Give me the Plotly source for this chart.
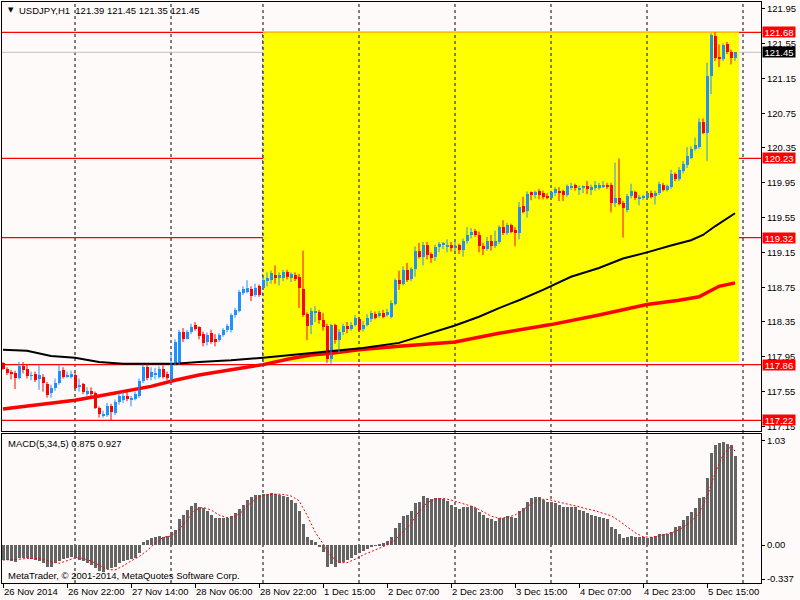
import plotly.graph_objects as go

# ---------------- data ----------------
opens = [117.88,117.81,117.78,117.76,117.71,117.84,117.81,117.73,117.75,117.70,
 117.72,117.64,117.53,117.59,117.65,117.80,117.72,117.72,117.74,117.61,
 117.64,117.52,117.56,117.53,117.36,117.27,117.28,117.39,117.30,117.43,
 117.45,117.50,117.46,117.47,117.50,117.67,117.83,117.72,117.75,117.72,
 117.81,117.75,117.68,117.87,117.88,118.24,118.16,118.23,118.31,118.29,
 118.21,118.12,118.22,118.15,118.14,118.20,118.26,118.26,118.43,118.48,
 118.68,118.70,118.73,118.66,118.76,118.74,118.83,118.83,118.89,118.86,
 118.86,118.93,118.86,118.89,118.87,118.73,118.44,118.31,118.46,118.47,
 118.37,118.30,117.92,118.31,118.14,118.24,118.30,118.27,118.32,118.39,
 118.27,118.32,118.38,118.44,118.42,118.45,118.43,118.41,118.56,118.83,
 118.79,118.95,118.84,118.96,119.17,119.10,119.24,119.13,119.10,119.21,
 119.24,119.22,119.23,119.21,119.23,119.18,119.28,119.35,119.40,119.35,
 119.22,119.19,119.28,119.22,119.27,119.44,119.37,119.46,119.41,119.37,
 119.68,119.63,119.84,119.81,119.85,119.83,119.80,119.78,119.83,119.86,
 119.86,119.81,119.90,119.92,119.87,119.90,119.91,119.87,119.89,119.89,
 119.91,119.93,119.92,119.72,119.78,119.72,119.64,119.80,119.84,119.77,
 119.78,119.78,119.83,119.80,119.83,119.93,119.87,119.90,120.05,119.99,
 120.08,120.15,120.24,120.34,120.36,120.65,120.52,121.18,121.64,121.40,
 121.37,121.54,121.45,121.39]
highs = [117.89,117.83,117.80,117.79,117.89,117.89,117.86,117.78,117.78,117.85,
 117.75,117.66,117.63,117.70,117.86,117.83,117.78,117.79,117.77,117.70,
 117.65,117.60,117.60,117.55,117.38,117.33,117.42,117.41,117.46,117.53,
 117.55,117.55,117.50,117.55,117.70,117.86,117.87,117.83,117.82,117.84,
 117.85,117.78,118.00,118.15,118.26,118.28,118.26,118.33,118.35,118.30,
 118.24,118.23,118.26,118.21,118.22,118.28,118.33,118.45,118.51,118.72,
 118.76,118.83,118.76,118.79,118.78,118.87,118.92,118.94,119.00,118.92,
 118.95,118.95,118.92,118.92,118.90,119.17,118.46,118.51,118.53,118.49,
 118.45,118.33,118.33,118.33,118.27,118.33,118.35,118.35,118.43,118.41,
 118.36,118.44,118.48,118.47,118.48,118.49,118.50,118.60,118.85,118.94,
 118.99,119.03,118.98,119.22,119.26,119.27,119.27,119.15,119.24,119.27,
 119.27,119.30,119.27,119.30,119.25,119.31,119.44,119.43,119.42,119.39,
 119.26,119.33,119.35,119.40,119.46,119.52,119.49,119.48,119.44,119.73,
 119.79,119.85,119.85,119.86,119.88,119.86,119.83,119.86,119.90,119.90,
 119.87,119.93,119.95,119.94,119.92,119.92,119.97,119.93,119.97,119.95,
 119.97,119.95,119.95,120.18,120.23,119.74,119.82,119.94,119.86,119.81,
 119.81,119.85,119.86,119.86,119.96,119.95,119.93,120.10,120.07,120.13,
 120.20,120.36,120.37,120.47,120.69,120.69,121.33,121.67,121.68,121.54,
 121.55,121.57,121.48,121.45]
lows = [117.80,117.74,117.69,117.58,117.69,117.76,117.70,117.68,117.66,117.57,
 117.55,117.48,117.48,117.56,117.63,117.70,117.71,117.70,117.58,117.55,
 117.52,117.50,117.50,117.35,117.25,117.25,117.26,117.22,117.28,117.40,
 117.42,117.44,117.38,117.45,117.48,117.65,117.68,117.68,117.69,117.70,
 117.70,117.68,117.66,117.85,117.86,118.12,118.15,118.21,118.25,118.15,
 118.07,118.08,118.10,118.07,118.12,118.18,118.23,118.23,118.40,118.46,
 118.66,118.68,118.59,118.64,118.64,118.72,118.76,118.79,118.79,118.77,
 118.82,118.84,118.81,118.82,118.51,118.41,118.14,118.21,118.35,118.33,
 118.25,117.88,117.87,118.10,117.99,118.20,118.22,118.25,118.30,118.24,
 118.24,118.30,118.35,118.38,118.40,118.39,118.41,118.39,118.54,118.72,
 118.77,118.81,118.82,118.87,119.08,119.00,119.07,119.03,119.05,119.15,
 119.19,119.15,119.16,119.15,119.13,119.10,119.25,119.31,119.33,119.15,
 119.12,119.17,119.17,119.20,119.25,119.35,119.35,119.37,119.22,119.30,
 119.60,119.55,119.75,119.77,119.76,119.76,119.76,119.76,119.80,119.74,
 119.74,119.79,119.87,119.86,119.81,119.83,119.82,119.81,119.86,119.87,
 119.89,119.88,119.61,119.67,119.69,119.32,119.61,119.77,119.75,119.69,
 119.75,119.76,119.77,119.70,119.81,119.85,119.85,119.88,119.97,119.97,
 120.06,120.12,120.22,120.32,120.34,120.51,120.20,120.97,121.35,121.28,
 121.35,121.43,121.31,121.35]
closes = [117.81,117.76,117.76,117.71,117.84,117.80,117.73,117.74,117.68,117.74,
 117.65,117.51,117.59,117.65,117.79,117.72,117.74,117.75,117.59,117.63,
 117.54,117.56,117.52,117.36,117.29,117.29,117.39,117.31,117.43,117.50,
 117.50,117.46,117.47,117.52,117.67,117.83,117.71,117.77,117.76,117.81,
 117.72,117.71,117.88,118.12,118.24,118.15,118.24,118.29,118.27,118.19,
 118.11,118.20,118.12,118.12,118.20,118.26,118.30,118.43,118.49,118.70,
 118.73,118.74,118.65,118.74,118.66,118.83,118.85,118.91,118.85,118.89,
 118.93,118.87,118.90,118.84,118.74,118.43,118.30,118.48,118.48,118.37,
 118.29,117.92,118.31,118.14,118.24,118.30,118.27,118.32,118.40,118.26,
 118.32,118.40,118.45,118.40,118.45,118.41,118.46,118.57,118.83,118.79,
 118.95,118.83,118.96,119.17,119.10,119.24,119.12,119.09,119.21,119.25,
 119.25,119.24,119.20,119.22,119.18,119.28,119.35,119.39,119.35,119.22,
 119.19,119.28,119.22,119.28,119.44,119.37,119.46,119.39,119.37,119.67,
 119.62,119.82,119.81,119.84,119.81,119.79,119.78,119.84,119.88,119.83,
 119.81,119.91,119.91,119.89,119.89,119.91,119.88,119.90,119.92,119.93,
 119.93,119.90,119.72,119.78,119.71,119.66,119.80,119.85,119.78,119.79,
 119.79,119.83,119.79,119.83,119.94,119.87,119.91,120.05,119.99,120.10,
 120.17,120.26,120.34,120.38,120.65,120.52,121.18,121.65,121.39,121.37,
 121.53,121.45,121.39,121.45]
bar_idx = list(range(len(opens)))

macd_hist = [-0.148,-0.148,-0.155,-0.165,-0.132,-0.132,-0.132,-0.138,-0.148,-0.155,
 -0.174,-0.214,-0.214,-0.181,-0.155,-0.141,-0.125,-0.115,-0.125,-0.148,
 -0.158,-0.174,-0.197,-0.230,-0.257,-0.263,-0.240,-0.230,-0.214,-0.181,
 -0.158,-0.148,-0.138,-0.125,-0.076,0.033,0.049,0.066,0.082,0.092,
 0.082,0.089,0.125,0.148,0.257,0.296,0.346,0.388,0.418,0.372,
 0.362,0.336,0.296,0.270,0.270,0.270,0.270,0.286,0.313,0.355,
 0.395,0.444,0.477,0.494,0.494,0.500,0.503,0.510,0.503,0.494,
 0.484,0.477,0.444,0.411,0.336,0.207,0.076,0.049,0.033,-0.023,
 -0.072,-0.214,-0.188,-0.214,-0.181,-0.165,-0.148,-0.125,-0.099,-0.082,
 -0.056,-0.043,-0.023,-0.007,0.010,0.016,0.039,0.082,0.171,0.214,
 0.286,0.293,0.336,0.411,0.428,0.484,0.461,0.454,0.461,0.461,
 0.454,0.434,0.395,0.378,0.355,0.372,0.378,0.385,0.369,0.329,
 0.296,0.270,0.253,0.240,0.270,0.270,0.286,0.273,0.263,0.339,
 0.369,0.428,0.461,0.477,0.477,0.444,0.428,0.428,0.418,0.395,
 0.378,0.378,0.378,0.372,0.346,0.336,0.319,0.296,0.286,0.280,
 0.270,0.253,0.181,0.155,0.109,0.066,0.082,0.089,0.082,0.082,
 0.076,0.072,0.076,0.089,0.105,0.109,0.109,0.132,0.174,0.188,
 0.247,0.286,0.329,0.362,0.461,0.477,0.658,0.905,0.987,1.004,
 1.020,0.997,0.987,0.875]

signal_idx = list(range(0, 184, 2)) + [183]
signal_vals = [-0.148,-0.148,-0.141,-0.132,-0.132,-0.138,-0.165,-0.181,-0.155,-0.125,
 -0.132,-0.158,-0.197,-0.240,-0.247,-0.207,-0.158,-0.115,-0.056,0.016,
 0.076,0.089,0.148,0.247,0.346,0.372,0.346,0.296,0.270,0.280,
 0.336,0.418,0.477,0.494,0.503,0.500,0.484,0.438,0.296,0.132,
 0.016,-0.109,-0.174,-0.174,-0.141,-0.099,-0.066,-0.033,0.0,0.049,
 0.132,0.214,0.329,0.418,0.454,0.461,0.444,0.421,0.395,0.372,
 0.329,0.286,0.263,0.273,0.296,0.346,0.405,0.451,0.451,0.434,
 0.418,0.395,0.378,0.355,0.339,0.313,0.290,0.240,0.181,0.122,
 0.082,0.076,0.089,0.109,0.132,0.174,0.230,0.313,0.477,0.707,
 0.888,0.977,0.927]

ma_black_idx = [0,6,12,18,24,30,37,43,49,57,65,74,84,90,99,107,113,119,124,129,
                135,142,149,155,161,167,172,175,178,183]
ma_black = [118.03,118.02,117.96,117.94,117.89,117.87,117.87,117.87,117.89,117.91,
            117.94,117.98,118.03,118.05,118.11,118.22,118.31,118.41,118.51,118.60,
            118.72,118.87,118.97,119.08,119.15,119.23,119.29,119.35,119.45,119.60]
ma_red_idx = [0,6,12,18,24,30,37,43,49,57,65,72,77,82,89,99,113,124,137,149,
              161,169,174,179,183]
ma_red = [117.35,117.38,117.42,117.45,117.50,117.55,117.61,117.68,117.74,117.80,
          117.86,117.93,117.97,117.99,118.03,118.07,118.12,118.22,118.32,118.43,
          118.55,118.60,118.64,118.76,118.80]

levels = [121.68, 120.23, 119.32, 117.86, 117.22]
last_price = 121.45
rect_x = [65, 184]
rect_y = [117.89, 121.68]
day_idx = [18, 42, 65, 89, 113, 137, 161, 185]
tick_idx = [0, 16, 32, 48, 64, 80, 96, 112, 128, 144, 160, 176]
tick_text = ["26 Nov 2014", "26 Nov 22:00", "27 Nov 14:00", "28 Nov 06:00",
             "28 Nov 22:00", "1 Dec 15:00", "2 Dec 07:00", "2 Dec 23:00",
             "3 Dec 15:00", "4 Dec 07:00", "4 Dec 23:00", "5 Dec 15:00"]
price_ticks = [121.95, 121.55, 121.15, 120.75, 120.35, 119.95, 119.55, 119.15,
               118.75, 118.35, 117.95, 117.55, 117.15]
macd_ticks = [1.03, 0.0, -0.337]
macd_tick_text = ["1.03", "0.00", "-0.337"]
header_text = "USDJPY,H1  121.39 121.45 121.35 121.45"
macd_text = "MACD(5,34,5) 0.875 0.927"
copyright_text = "MetaTrader, \u00a9 2001-2014, MetaQuotes Software Corp."

# ---------------- styling ----------------
W, H = 800, 600
BG = "#FFFAFA"
UP = "#1E90FF"
DN = "#FF0000"
FONT = "Liberation Sans"
FS = 9.5
XR = [-0.25, 189.5]
main_dom = [(600 - 431) / 600, (600 - 2) / 600]
macd_dom = [(600 - 583) / 600, (600 - 434) / 600]
x_dom = [2 / 800, 761 / 800]

fig = go.Figure()

# moving averages
fig.add_trace(go.Scatter(x=ma_red_idx, y=ma_red, mode="lines",
                         line=dict(color="#FF0000", width=3.5), xaxis="x", yaxis="y",
                         hoverinfo="skip", showlegend=False))
fig.add_trace(go.Scatter(x=ma_black_idx, y=ma_black, mode="lines",
                         line=dict(color="#000000", width=2), xaxis="x", yaxis="y",
                         hoverinfo="skip", showlegend=False))

# wicks
for up in (True, False):
    wx, wy = [], []
    for i in bar_idx:
        if (closes[i] >= opens[i]) == up:
            wx += [i, i, None]
            wy += [lows[i], highs[i], None]
    fig.add_trace(go.Scatter(x=wx, y=wy, mode="lines",
                             line=dict(color=UP if up else DN, width=1),
                             xaxis="x", yaxis="y", hoverinfo="skip", showlegend=False))

# bodies
fig.add_trace(go.Bar(x=bar_idx,
                     base=[min(o, c) for o, c in zip(opens, closes)],
                     y=[abs(c - o) for o, c in zip(opens, closes)],
                     width=0.75,
                     marker=dict(color=[UP if c >= o else DN for o, c in zip(opens, closes)],
                                 line=dict(width=0)),
                     xaxis="x", yaxis="y", showlegend=False))

# MACD
fig.add_trace(go.Bar(x=bar_idx, y=macd_hist, width=0.75,
                     marker=dict(color="#646464", line=dict(width=0)),
                     xaxis="x2", yaxis="y2", showlegend=False))
fig.add_trace(go.Scatter(x=signal_idx, y=signal_vals, mode="lines",
                         line=dict(color="#FF0000", width=1, dash="2px,2px"),
                         xaxis="x2", yaxis="y2", showlegend=False))

shapes = []
shapes.append(dict(type="rect", xref="x", yref="y", x0=rect_x[0], x1=rect_x[1],
                   y0=rect_y[0], y1=rect_y[1], fillcolor="#FFFF00",
                   line=dict(width=0), layer="below"))
for d in day_idx:
    shapes.append(dict(type="line", xref="x", yref="paper", x0=d, x1=d,
                       y0=macd_dom[0], y1=main_dom[1],
                       line=dict(color="#000000", width=1, dash="3px,3px"), layer="below"))
    if rect_x[0] <= d <= rect_x[1]:
        shapes.append(dict(type="line", xref="x", yref="y", x0=d, x1=d,
                           y0=rect_y[0], y1=rect_y[1],
                           line=dict(color="#000080", width=1, dash="3px,3px"), layer="below"))
shapes.append(dict(type="line", xref="paper", yref="y", x0=x_dom[0], x1=x_dom[1],
                   y0=last_price, y1=last_price, line=dict(color="#C0C0C0", width=1),
                   layer="below"))
for lv in levels:
    shapes.append(dict(type="line", xref="paper", yref="y", x0=x_dom[0], x1=x_dom[1],
                       y0=lv, y1=lv, line=dict(color="#FF0000", width=1.3), layer="below"))

ann = []
for lv in levels:
    ann.append(dict(xref="paper", yref="y", x=762 / 800, y=lv, xanchor="left",
                    yanchor="middle", text=f"{lv:.2f}", showarrow=False,
                    bgcolor="#FF0000", font=dict(family=FONT, size=FS, color="white"),
                    width=32, height=10, borderpad=0, align="center"))
ann.append(dict(xref="paper", yref="y", x=762 / 800, y=last_price, xanchor="left",
                yanchor="middle", text=f"{last_price:.2f}", showarrow=False,
                bgcolor="#000000", font=dict(family=FONT, size=FS, color="white"),
                width=32, height=10, borderpad=0, align="center"))
ann.append(dict(xref="paper", yref="paper", x=6 / 800, y=1 - 10 / 600, xanchor="left",
                yanchor="middle", text="\u25BC", showarrow=False,
                font=dict(family="DejaVu Sans", size=7, color="black")))
ann.append(dict(xref="paper", yref="paper", x=17 / 800, y=1 - 10 / 600, xanchor="left",
                yanchor="middle", text=header_text, showarrow=False,
                font=dict(family=FONT, size=FS, color="black")))
ann.append(dict(xref="paper", yref="paper", x=6 / 800, y=1 - 443 / 600, xanchor="left",
                yanchor="middle", text=macd_text, showarrow=False,
                font=dict(family=FONT, size=FS, color="black")))
ann.append(dict(xref="paper", yref="paper", x=6 / 800, y=1 - 575 / 600, xanchor="left",
                yanchor="middle", text=copyright_text, showarrow=False,
                font=dict(family=FONT, size=FS, color="black")))

axis_common = dict(showgrid=False, zeroline=False, showline=True, mirror=True,
                   linecolor="black", linewidth=1, fixedrange=True, automargin=False)

fig.update_layout(
    width=W, height=H, margin=dict(l=0, r=0, t=0, b=0, autoexpand=False),
    paper_bgcolor=BG, plot_bgcolor=BG, barmode="overlay", bargap=0,
    showlegend=False, shapes=shapes, annotations=ann,
    font=dict(family=FONT, size=FS, color="black"),
    xaxis=dict(domain=x_dom, range=XR, anchor="y", showticklabels=False, ticks="",
               **axis_common),
    yaxis=dict(domain=main_dom, range=[117.097, 122.028], side="right", anchor="x",
               tickvals=price_ticks, ticktext=[f"{p:.2f}" for p in price_ticks],
               ticks="outside", ticklen=3, tickcolor="black",
               tickfont=dict(family=FONT, size=FS, color="black"), **axis_common),
    xaxis2=dict(domain=x_dom, range=XR, anchor="y2", tickvals=tick_idx, ticktext=tick_text,
                ticks="outside", ticklen=4, tickcolor="black", tickangle=0,
                ticklabelposition="outside right",
                tickfont=dict(family=FONT, size=FS, color="black"), **axis_common),
    yaxis2=dict(domain=macd_dom, range=[-0.375, 1.096], side="right", anchor="x2",
                tickvals=macd_ticks, ticktext=macd_tick_text,
                ticks="outside", ticklen=3, tickcolor="black",
                tickfont=dict(family=FONT, size=FS, color="black"), **axis_common),
)

fig.write_html("out.html", config={"displayModeBar": False},
               post_script="document.body.style.margin='0';"
                           "document.body.style.overflow='hidden';")
